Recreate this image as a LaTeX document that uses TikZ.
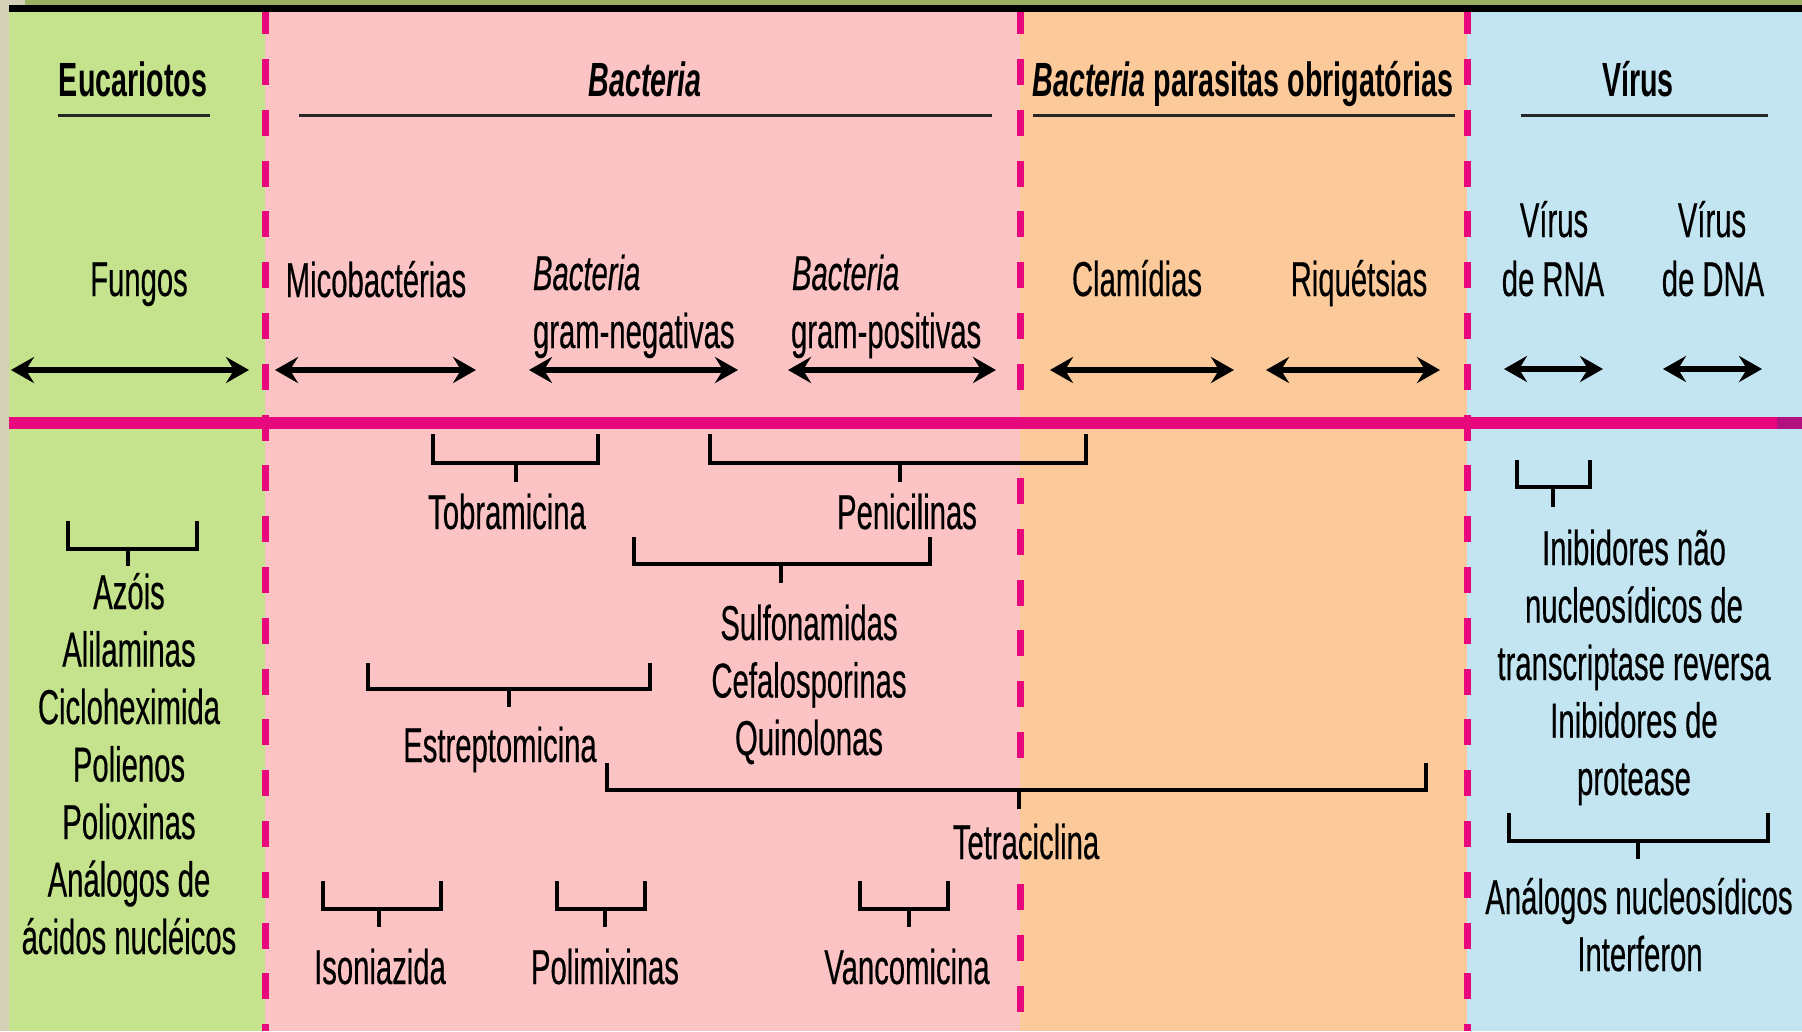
\documentclass[tikz,border=0pt]{standalone}
\usepackage{fontspec}
\setmainfont{Liberation Sans}[FakeStretch=0.597,
  UprightFeatures={FakeBold=0.35}, ItalicFeatures={FakeBold=0.35}]
\usetikzlibrary{arrows.meta}
\definecolor{bgbeige}{HTML}{D4D0B8}
\definecolor{cOlive}{HTML}{9CB062}
\definecolor{pgreen}{HTML}{C4E38C}
\definecolor{ppink}{HTML}{FBC3C3}
\definecolor{porange}{HTML}{FCC99A}
\definecolor{pblue}{HTML}{C3E5F1}
\definecolor{mag}{HTML}{E8087E}
\definecolor{purp}{HTML}{B2127F}
\newcommand\drawbracket[6]{%
  \draw[brk] (#1,#3) |- (#2,#4) -- (#2,#3);
  \draw[brk] (#5,#4) -- (#5,#6);}
\tikzset{
  lbl/.style={anchor=base, inner sep=0pt, outer sep=0pt, text=black, font=\fontsize{49}{57.5}\selectfont},
  hdr/.style={lbl, font=\fontsize{48}{57.5}\selectfont\bfseries},
  dbl/.style={line width=6pt, {Stealth[length=23pt,width=26pt,inset=8pt]}-{Stealth[length=23pt,width=26pt,inset=8pt]}},
  brk/.style={line width=4.5pt, line join=miter, line cap=butt, black},
  uline/.style={line width=3.5pt, black!85},
  vdash/.style={mag, line width=7pt, dash pattern=on 26pt off 24.8pt}
}
\begin{document}
\begin{tikzpicture}[x=1pt,y=-1pt]
\useasboundingbox (0,0) rectangle (1802,1031);
% backgrounds
\fill[bgbeige] (0,0) rectangle (1802,1031);
\fill[pgreen] (9,12) rectangle (265,1031);
\fill[ppink] (265,12) rectangle (1020,1031);
\fill[porange] (1020,12) rectangle (1467,1031);
\fill[pblue] (1467,12) rectangle (1802,1031);
% horizontal magenta rule
\fill[mag] (9,417) rectangle (1802,429);
\fill[purp] (1777,417) rectangle (1802,429);
% dashed separators
\draw[vdash] (265,8.2) -- (265,1031);
\draw[vdash] (1467,8.2) -- (1467,1031);
\draw[vdash] (1020,8.2) -- (1020,400);
\draw[vdash] (1020,478) -- (1020,760);
\draw[vdash] (1020,884) -- (1020,1031);
% top bars
\fill[cOlive] (25,0) rectangle (1802,5);
\fill[black] (9,5) rectangle (1802,12);

% headers
\node[hdr] (eu) at (133,96) {Eucariotos};
\node[hdr] (ba) at (645,96) {\itshape Bacteria};
\node[hdr] (bp) at (1243,96) {\textit{Bacteria} parasitas obrigatórias};
\node[hdr] (vi) at (1638,96) {Vírus};
\draw[uline] (58,115.5) -- (210,115.5);
\draw[uline] (299,115.5) -- (992,115.5);
\draw[uline] (1033,115.5) -- (1455,115.5);
\draw[uline] (1521,115.5) -- (1768,115.5);

% second row labels
\node[lbl] (fu) at (139,296) {Fungos};
\node[lbl] (mi) at (376,297) {Micobactérias};
\node[lbl, anchor=base west] (gn1) at (533,290) {\itshape Bacteria};
\node[lbl, anchor=base west] (gn2) at (533,348) {gram-negativas};
\node[lbl, anchor=base west] (gp1) at (792,290) {\itshape Bacteria};
\node[lbl, anchor=base west] (gp2) at (791,348) {gram-positivas};
\node[lbl] (cl) at (1137,296) {Clamídias};
\node[lbl] (ri) at (1359,296) {Riquétsias};
\node[lbl] (rn1) at (1554,237) {Vírus};
\node[lbl] (rn2) at (1553,296) {de RNA};
\node[lbl] (dn1) at (1712,237) {Vírus};
\node[lbl] (dn2) at (1713,296) {de DNA};

% range arrows
\draw[dbl] (11,370) -- (249,370);
\draw[dbl] (275,370) -- (476,370);
\draw[dbl] (529,370) -- (738,370);
\draw[dbl] (788,370) -- (996,370);
\draw[dbl] (1050,370) -- (1234,370);
\draw[dbl] (1266,370) -- (1440,370);
\draw[dbl] (1504,369) -- (1603,369);
\draw[dbl] (1663,369) -- (1762,369);

% brackets
\drawbracket{68}{197}{521}{549}{128}{566}
\drawbracket{433}{598}{434}{463}{516}{482}
\drawbracket{710}{1086}{434}{463}{900}{482}
\drawbracket{634}{930}{537}{564}{781}{583}
\drawbracket{368}{650}{663}{689}{509}{707}
\drawbracket{607}{1426}{763}{790}{1019}{809}
\drawbracket{323}{441}{881}{909}{379}{927}
\drawbracket{557}{645}{881}{909}{605}{927}
\drawbracket{860}{948}{881}{909}{909}{927}
\drawbracket{1517}{1590}{460}{487}{1553}{507}
\drawbracket{1509}{1768}{813}{841}{1638}{859}

% drug labels - fungi
\node[lbl] (az) at (129,609) {Azóis};
\node[lbl] (al) at (129,666.5) {Alilaminas};
\node[lbl] (ci) at (129,724) {Cicloheximida};
\node[lbl] (po) at (129,781.5) {Polienos};
\node[lbl] (px) at (129,839) {Polioxinas};
\node[lbl] (an) at (129,896.5) {Análogos de};
\node[lbl] (ac) at (129,954) {ácidos nucléicos};

% bacteria
\node[lbl] (to) at (507,529) {Tobramicina};
\node[lbl] (pe) at (907,529) {Penicilinas};
\node[lbl] (su) at (809,640) {Sulfonamidas};
\node[lbl] (ce) at (809,697.5) {Cefalosporinas};
\node[lbl] (qu) at (809,755) {Quinolonas};
\node[lbl] (es) at (500,762) {Estreptomicina};
\node[lbl] (te) at (1026,859) {Tetraciclina};
\node[lbl] (is) at (380,984) {Isoniazida};
\node[lbl] (pm) at (605,984) {Polimixinas};
\node[lbl] (va) at (907,984) {Vancomicina};

% viruses
\node[lbl] (v1) at (1634,565) {Inibidores não};
\node[lbl] (v2) at (1634,622.5) {nucleosídicos de};
\node[lbl] (v3) at (1634,680) {transcriptase reversa};
\node[lbl] (v4) at (1634,737.5) {Inibidores de};
\node[lbl] (v5) at (1634,795) {protease};
\node[lbl] (v6) at (1639,914) {Análogos nucleosídicos};
\node[lbl] (v7) at (1640,971) {Interferon};
\end{tikzpicture}
\end{document}
